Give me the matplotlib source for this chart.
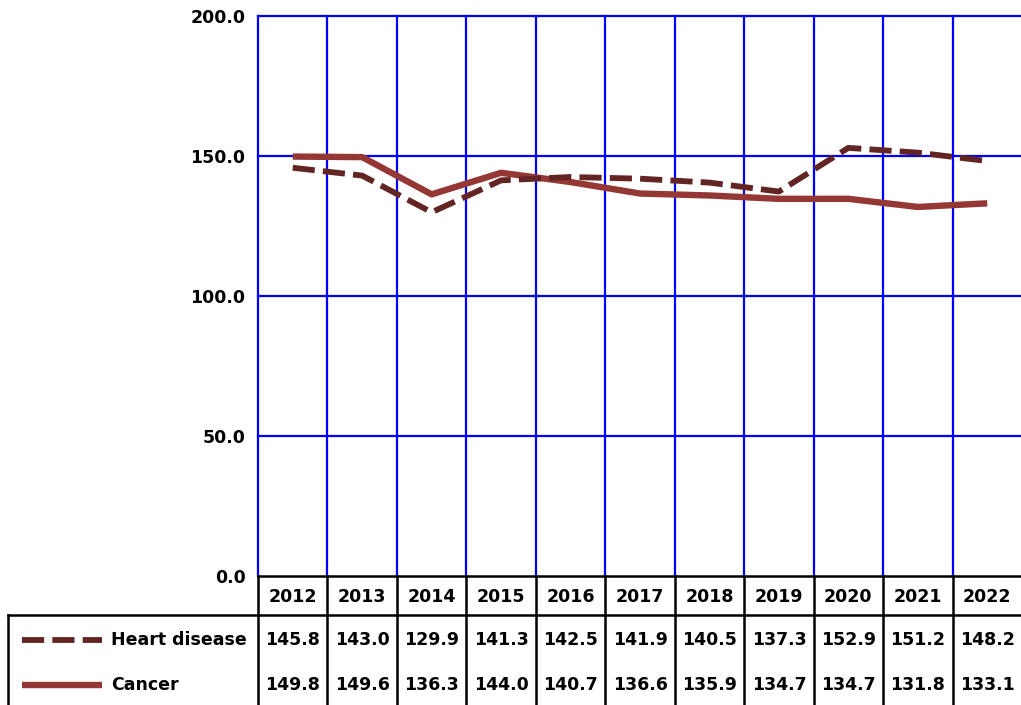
import matplotlib
matplotlib.use("Agg")
import matplotlib.pyplot as plt
from matplotlib.lines import Line2D
from matplotlib.transforms import blended_transform_factory

years = ["2012", "2013", "2014", "2015", "2016", "2017", "2018", "2019", "2020", "2021", "2022"]
heart = [145.8, 143.0, 129.9, 141.3, 142.5, 141.9, 140.5, 137.3, 152.9, 151.2, 148.2]
cancer = [149.8, 149.6, 136.3, 144.0, 140.7, 136.6, 135.9, 134.7, 134.7, 131.8, 133.1]
series_names = ["Heart disease", "Cancer"]
yticks = [0, 50, 100, 150, 200]

W, H = 1021, 705
fig = plt.figure(figsize=(W / 100, H / 100), dpi=100)
FONT = dict(family="DejaVu Sans", weight="bold", size=12.5)

def fy(p):
    return 1 - p / H

def fx(p):
    return p / W

L, R, T, B = 258, 1022, 16, 576
ax = fig.add_axes([fx(L), fy(B), fx(R - L), fy(T) - fy(B)])
x = list(range(len(years)))
heart_c = "#632523"
cancer_c = "#953735"
ax.plot(x, cancer, color=cancer_c, lw=4.6, solid_capstyle="butt", zorder=3)
ax.plot(x, heart, color=heart_c, lw=4.2, dashes=(3.8, 1.4), dash_capstyle="butt", zorder=4)
ax.set_xlim(-0.5, len(years) - 0.5)
ax.set_ylim(0, 200)
ax.set_yticks(yticks)
ax.set_yticklabels([f"{v:.1f}" for v in yticks], fontdict=FONT)
ax.set_xticks([])
ax.tick_params(axis="y", length=0, pad=9)
for i in range(len(years) + 1):
    ax.axvline(i - 0.5, color="#0000FF", lw=1.6, zorder=1, clip_on=False)
for v in yticks[1:]:
    ax.axhline(v, color="#0000FF", lw=1.6, zorder=1, clip_on=False)
for s in ["left", "top", "right"]:
    ax.spines[s].set_visible(False)
ax.spines["bottom"].set_color("black")
ax.spines["bottom"].set_linewidth(1.8)
ax.spines["bottom"].set_zorder(5)

# data table
tr = blended_transform_factory(ax.transData, fig.transFigure)
hdr_bottom = 615
lw_tab = 1.8
for i in range(len(years) + 1):
    fig.add_artist(Line2D([i - 0.5, i - 0.5], [fy(B), 0], transform=tr, color="black", lw=lw_tab, clip_on=False))
fig.add_artist(Line2D([fx(8), 1], [fy(hdr_bottom), fy(hdr_bottom)], transform=fig.transFigure, color="black", lw=lw_tab))
fig.add_artist(Line2D([fx(8), fx(8)], [fy(hdr_bottom), 0], transform=fig.transFigure, color="black", lw=lw_tab))

for i, yr in enumerate(years):
    fig.text(i, fy(597), yr, transform=tr, ha="center", va="center", **FONT)
    fig.text(i, fy(640), f"{heart[i]:.1f}", transform=tr, ha="center", va="center", **FONT)
    fig.text(i, fy(685), f"{cancer[i]:.1f}", transform=tr, ha="center", va="center", **FONT)

fig.add_artist(Line2D([fx(22), fx(102)], [fy(640), fy(640)], transform=fig.transFigure,
                      color=heart_c, lw=4.2, dashes=(3.8, 1.4), dash_capstyle="butt"))
fig.add_artist(Line2D([fx(22), fx(102)], [fy(685), fy(685)], transform=fig.transFigure,
                      color=cancer_c, lw=4.6, solid_capstyle="butt"))
fig.text(fx(111), fy(640), series_names[0], ha="left", va="center", **FONT)
fig.text(fx(111), fy(685), series_names[1], ha="left", va="center", **FONT)

fig.savefig("out.png", dpi=100)
